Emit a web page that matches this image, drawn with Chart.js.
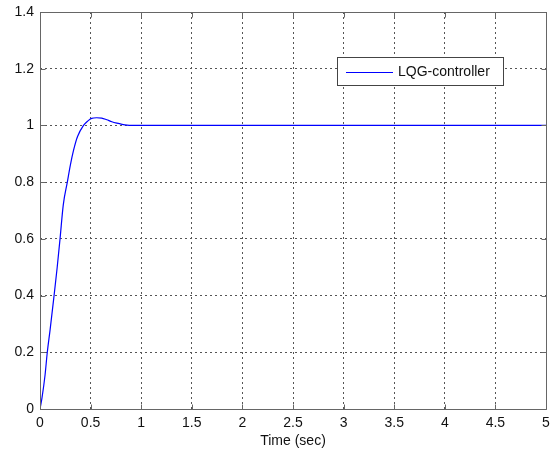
<!DOCTYPE html>
<html><head><meta charset="utf-8">
<script src="https://cdn.jsdelivr.net/npm/chart.js@4/dist/chart.umd.min.js"></script>
<style>html,body{margin:0;padding:0;background:#fff}#wrap{width:552px;height:450px}</style>
</head><body><div id="wrap"><canvas id="c" width="552" height="450"></canvas></div>
<script>
const timeSec = [0,0.02,0.05,0.072,0.1,0.139,0.17,0.198,0.23,0.27,0.3,0.33,0.37,0.43,0.47,0.51,0.56,0.61,0.66,0.71,0.76,0.81,0.86,0.9,1.0,1.5,2,2.5,3,3.5,4,4.5,5];
const response = [0,0.04,0.12,0.2,0.28,0.4,0.5,0.6,0.72,0.8,0.86,0.91,0.96,1.0,1.015,1.025,1.027,1.026,1.02,1.013,1.008,1.004,1.001,1.0,1.0,1.0,1.0,1.0,1.0,1.0,1.0,1.0,1.0];
const xTickValues = [0,0.5,1,1.5,2,2.5,3,3.5,4,4.5,5];
const yTickValues = [0,0.2,0.4,0.6,0.8,1,1.2,1.4];
const seriesName = 'LQG-controller';
const xTitle = 'Time (sec)';

const FONT = 'Liberation Sans, Arial, sans-serif';
const frame = {
  id:'frame',
  afterDraw(chart){
    const {ctx, chartArea:a, scales:{x,y}} = chart;
    ctx.save();
    ctx.strokeStyle = '#666'; ctx.lineWidth = 1;
    ctx.beginPath();
    const L = Math.round(a.left)+0.5, R = Math.round(a.right)+0.5, T = Math.round(a.top)+0.5, B = Math.round(a.bottom)+0.5;
    ctx.rect(L, T, R-L, B-T);
    xTickValues.forEach(v=>{const p=Math.round(x.getPixelForValue(v))+0.5; ctx.moveTo(p,B); ctx.lineTo(p,B-5); ctx.moveTo(p,T); ctx.lineTo(p,T+5);});
    yTickValues.forEach(v=>{const p=Math.round(y.getPixelForValue(v))+0.5; ctx.moveTo(L,p); ctx.lineTo(L+5,p); ctx.moveTo(R,p); ctx.lineTo(R-5,p);});
    ctx.stroke();
    // legend box
    const bx=337.5, by=57.5, bw=166, bh=28;
    ctx.fillStyle='#fff'; ctx.fillRect(bx,by,bw,bh);
    ctx.strokeStyle='#444'; ctx.strokeRect(bx,by,bw,bh);
    ctx.strokeStyle='#0000ff'; ctx.beginPath(); ctx.moveTo(346,72.5); ctx.lineTo(393,72.5); ctx.stroke();
    ctx.fillStyle='#111'; ctx.font='14px '+FONT; ctx.textBaseline='middle'; ctx.textAlign='left';
    ctx.fillText(seriesName, 398, 72);
    ctx.restore();
  }
};

new Chart(document.getElementById('c'), {
  type:'line',
  data:{datasets:[{label:seriesName, data:timeSec.map((t,i)=>({x:t,y:response[i]})), borderColor:'#0000ff', borderWidth:1.2, pointRadius:0, tension:0.4, cubicInterpolationMode:'monotone', fill:false}]},
  options:{
    responsive:false, animation:false, devicePixelRatio:1,
    layout:{padding:{left:0,top:12,right:6,bottom:0}},
    plugins:{legend:{display:false}, tooltip:{enabled:false}},
    scales:{
      x:{type:'linear', min:0, max:5,
        afterBuildTicks(s){s.ticks = xTickValues.map(v=>({value:v}));},
        afterFit(s){s.height = 41; s.paddingLeft = 0; s.paddingRight = 0;},
        border:{display:false, dash:[2,3]},
        grid:{color:'#555', lineWidth:1, drawTicks:false},
        ticks:{padding:6, color:'#111', font:{family:FONT,size:14}, maxRotation:0, autoSkip:false, callback:v=>String(+v.toFixed(1))},
        title:{display:true, text:xTitle, color:'#111', font:{family:FONT,size:14}, padding:{top:0,bottom:0}}
      },
      y:{type:'linear', min:0, max:1.4,
        afterBuildTicks(s){s.ticks = yTickValues.map(v=>({value:v}));},
        afterFit(s){s.width = 40; s.paddingTop = 0; s.paddingBottom = 0;},
        border:{display:false, dash:[2,3]},
        grid:{color:'#555', lineWidth:1, drawTicks:false},
        ticks:{padding:6, color:'#111', font:{family:FONT,size:14}, autoSkip:false, callback:v=>String(+v.toFixed(1))}
      }
    }
  },
  plugins:[frame]
});
</script></body></html>
